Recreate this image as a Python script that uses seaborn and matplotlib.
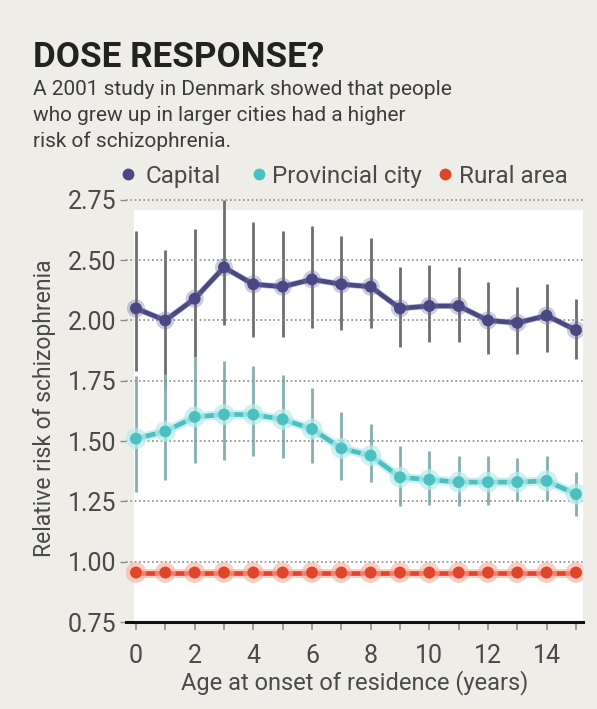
import numpy as np
import pandas as pd
import matplotlib
matplotlib.use("Agg")
import matplotlib.pyplot as plt
import matplotlib.patheffects as pe
from matplotlib.lines import Line2D
from matplotlib.patches import Rectangle
import matplotlib.transforms as mtransforms
import seaborn as sns

# ---------------- data ----------------
ages = list(range(16))
series_names = ["Capital", "Provincial city", "Rural area"]

capital = [2.05, 2.00, 2.09, 2.22, 2.15, 2.14, 2.17, 2.15, 2.14, 2.05, 2.06, 2.06, 2.00, 1.99, 2.02, 1.96]
capital_hi = [2.37, 2.29, 2.38, 2.50, 2.41, 2.37, 2.39, 2.35, 2.34, 2.22, 2.23, 2.22, 2.16, 2.14, 2.15, 2.09]
capital_lo = [1.79, 1.72, 1.85, 1.98, 1.93, 1.93, 1.97, 1.96, 1.97, 1.89, 1.91, 1.91, 1.86, 1.86, 1.87, 1.84]

provincial = [1.51, 1.54, 1.60, 1.61, 1.61, 1.59, 1.55, 1.47, 1.44, 1.35, 1.34, 1.33, 1.33, 1.33, 1.335, 1.28]
provincial_hi = [1.77, 1.78, 1.85, 1.83, 1.81, 1.775, 1.72, 1.62, 1.57, 1.48, 1.46, 1.44, 1.44, 1.43, 1.44, 1.37]
provincial_lo = [1.29, 1.34, 1.41, 1.42, 1.44, 1.43, 1.41, 1.34, 1.33, 1.23, 1.235, 1.23, 1.235, 1.25, 1.255, 1.19]

rural = [0.955] * 16

y_tick_pos = [0.75, 1.00, 1.25, 1.50, 1.75, 2.00, 2.25, 2.50]
y_tick_labels = ["0.75", "1.00", "1.25", "1.50", "1.75", "2.00", "2.50", "2.75"]
x_tick_labels = ["0", "2", "4", "6", "8", "10", "12", "14"]

title = "DOSE RESPONSE?"
subtitle = ["A 2001 study in Denmark showed that people",
            "who grew up in larger cities had a higher",
            "risk of schizophrenia."]
xlabel = "Age at onset of residence (years)"
ylabel = "Relative risk of schizophrenia"

# ---------------- style ----------------
BG = "#efede7"
C_CAP = "#4a4883"
C_PROV = "#4cc0c0"
C_RUR = "#e2442a"
C_ERR = "#6e6e6e"
TXT = "#4a4a4a"
FONT = ["Roboto", "DejaVu Sans"]

sns.set_theme(style="white")
plt.rcParams["font.family"] = FONT

df = pd.DataFrame({
    "age": ages * 3,
    "risk": capital + provincial + rural,
    "series": [series_names[0]] * 16 + [series_names[1]] * 16 + [series_names[2]] * 16,
})
palette = {series_names[0]: C_CAP, series_names[1]: C_PROV, series_names[2]: C_RUR}

W, H = 597, 709
fig = plt.figure(figsize=(W / 100, H / 100), dpi=100, facecolor=BG)
ax = fig.add_axes([126 / W, 87 / H, 457 / W, (622 - 195) / H])
ax.set_facecolor(BG)

# white plotting panel
trans = mtransforms.blended_transform_factory(ax.transData, ax.transAxes)
ax.add_patch(Rectangle((-0.07, 0.0), 15.31, 0.965, transform=trans,
                       facecolor="white", edgecolor="none", zorder=0))

# dotted gridlines
ax.grid(axis="y", color="#8a8a8a", lw=1.2, ls=(0, (1, 1.6)), zorder=1)
ax.grid(axis="x", visible=False)
ax.set_axisbelow(False)

# error bars
ax.vlines(ages, capital_lo, capital_hi, color=C_ERR, lw=2.0, zorder=2)
ax.vlines(ages, provincial_lo, provincial_hi, color="#86aeae", lw=2.0, zorder=2)

# lines
sns.lineplot(data=df, x="age", y="risk", hue="series", palette=palette,
             marker="o", markersize=8.5, linewidth=3.4, markeredgewidth=0,
             legend=False, ax=ax, zorder=4)
for line, (glow, gw, ga) in zip(ax.lines, [("#6f6ea3", 4.5, 0.35),
                                           ("#b8ecec", 6.5, 0.7),
                                           ("#f6b09f", 6.5, 0.6)]):
    line.set_path_effects([pe.Stroke(linewidth=gw, foreground=glow, alpha=ga), pe.Normal()])

ax.set_xlim(-0.34, 15.24)
ax.set_ylim(0.75, 2.52)
ax.set_yticks(y_tick_pos)
ax.set_yticklabels(y_tick_labels)
ax.set_xticks(ages, minor=True)
ax.set_xticks([int(t) for t in x_tick_labels])
ax.set_xticklabels(x_tick_labels)

for s in ["top", "right", "left"]:
    ax.spines[s].set_visible(False)
ax.spines["bottom"].set_color("#111111")
ax.spines["bottom"].set_linewidth(2.2)
ax.spines["bottom"].set_zorder(5)

ax.tick_params(axis="x", which="both", direction="out", length=6, width=1.2,
               color="#8a8a8a", labelsize=18, labelcolor=TXT, pad=10, bottom=True)
ax.tick_params(axis="y", direction="out", length=4, width=1.0, color="#8a8a8a",
               labelsize=18, labelcolor=TXT, pad=3, left=True)

ax.set_xlabel(xlabel, fontsize=17, color=TXT)
ax.set_ylabel(ylabel, fontsize=16.5, color=TXT)
ax.xaxis.set_label_coords(0.5, -0.112)
ax.yaxis.set_label_coords(-0.153, 0.5)

# titles
t = fig.text(33 / W, 1 - 67 / H, title, family=["Roboto", "DejaVu Sans"],
             fontweight="bold", color="#222222", va="baseline", ha="left")
t.set_fontsize(30)
renderer = fig.canvas.get_renderer()
bb = t.get_window_extent(renderer)
t.set_fontsize(30 * 290.0 / bb.width)
for i, line in enumerate(subtitle):
    fig.text(33 / W, 1 - (95 + 26 * i) / H, line, fontsize=15, color="#3c3c3c",
             va="baseline", ha="left")

# legend (manual)
leg_y = 1 - 174 / H
for name, mx, tx in zip(series_names, [128, 259, 445], [146, 272, 459]):
    fig.add_artist(Line2D([mx / W], [leg_y], marker="o", ls="none", markersize=7.5,
                          color=palette[name], transform=fig.transFigure))
    fig.text(tx / W, leg_y, name, fontsize=17.5, color=TXT, va="center_baseline", ha="left")

fig.savefig("out.png", dpi=100, facecolor=BG)
